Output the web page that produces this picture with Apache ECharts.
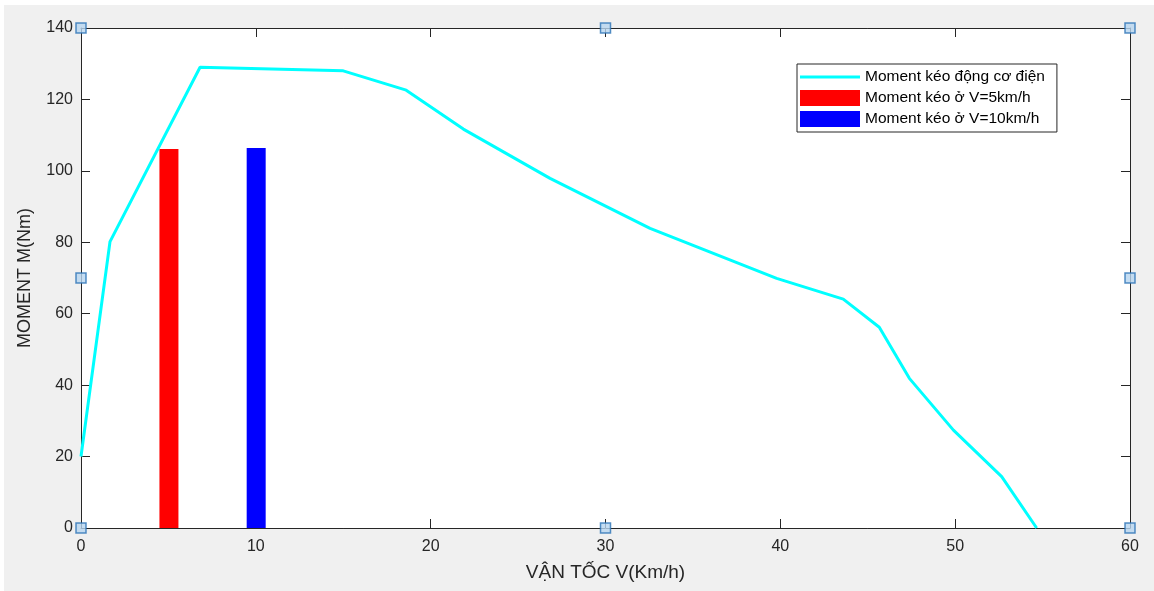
<!DOCTYPE html>
<html>
<head>
<meta charset="utf-8">
<script src="https://cdn.jsdelivr.net/npm/echarts@6/dist/echarts.min.js"></script>
<style>
  html, body { margin: 0; padding: 0; background: #ffffff; width: 1154px; height: 591px; overflow: hidden; }
  #chart { position: absolute; left: 4px; top: 5px; width: 1150px; height: 586px; background: #f0f0f0; }
</style>
</head>
<body>
<div id="chart"></div>
<script>
// ---- data ----
const curveX = [0, 1.66, 6.81, 15.0, 18.6, 21.87, 26.83, 32.55, 39.79, 43.6, 45.66, 47.38, 49.9, 52.66, 54.66];
const curveY = [20, 80.2, 129.0, 128.0, 122.6, 111.7, 97.9, 83.9, 69.9, 64.1, 56.2, 41.9, 27.4, 14.4, 0];
const bar5 = [[5.03, 106.1]];
const bar10 = [[10.02, 106.4]];
const handleX = [0, 30, 60, 0, 60, 0, 30, 60];
const handleY = [140, 140, 140, 70, 70, 0, 0, 0];
const xTicks = [0, 10, 20, 30, 40, 50, 60];
const yTicks = [0, 20, 40, 60, 80, 100, 120, 140];
const seriesNames = ['Moment kéo động cơ điện', 'Moment kéo ở V=5km/h', 'Moment kéo ở V=10km/h'];
const xName = 'VẬN TỐC V(Km/h)';
const yName = 'MOMENT M(Nm)';

const curve = curveX.map((x, i) => [x, curveY[i]]);
const handles = handleX.map((x, i) => [x, handleY[i]]);

const axisColor = '#262626';
const font = '"Liberation Sans", Arial, Helvetica, sans-serif';

const chart = echarts.init(document.getElementById('chart'), null, { renderer: 'canvas' });

const baseX = {
  type: 'value', min: xTicks[0], max: xTicks[xTicks.length - 1], interval: 10,
  axisLine: { show: true, onZero: false, lineStyle: { color: axisColor, width: 1 } },
  axisTick: { show: true, inside: true, length: 9, lineStyle: { color: axisColor } },
  splitLine: { show: false }
};
const baseY = {
  type: 'value', min: yTicks[0], max: yTicks[yTicks.length - 1], interval: 20,
  axisLine: { show: true, onZero: false, lineStyle: { color: axisColor, width: 1 } },
  axisTick: { show: true, inside: true, length: 9, lineStyle: { color: axisColor } },
  splitLine: { show: false }
};

const lineIcon = 'path://M0,0 M60,16 M0,6.5 L60,6.5 L60,9.5 L0,9.5 Z';

chart.setOption({
  animation: false,
  backgroundColor: '#f0f0f0',
  textStyle: { fontFamily: font },
  grid: {
    left: 77, right: 24, top: 23, bottom: 63,
    show: true, backgroundColor: '#ffffff', borderWidth: 0
  },
  legend: {
    orient: 'vertical',
    left: 793, top: 59,
    data: [
      { name: seriesNames[0], icon: lineIcon, itemStyle: { color: '#00ffff' } },
      { name: seriesNames[1], icon: 'rect' },
      { name: seriesNames[2], icon: 'rect' }
    ],
    itemWidth: 60, itemHeight: 16, itemGap: 5,
    padding: [5, 12, 5, 3],
    backgroundColor: '#ffffff',
    borderColor: axisColor, borderWidth: 1,
    textStyle: { fontSize: 15.5, color: '#000000', fontFamily: font },
    selectedMode: false
  },
  xAxis: [
    Object.assign({}, baseX, {
      position: 'bottom',
      name: xName, nameLocation: 'middle', nameGap: 35,
      nameTextStyle: { fontSize: 19, color: axisColor, fontFamily: font },
      axisLabel: { show: true, fontSize: 16, color: axisColor, margin: 11, fontFamily: font }
    }),
    Object.assign({}, baseX, { position: 'top', axisLabel: { show: false } })
  ],
  yAxis: [
    Object.assign({}, baseY, {
      position: 'left',
      name: yName, nameLocation: 'middle', nameGap: 47,
      nameTextStyle: { fontSize: 18, color: axisColor, fontFamily: font },
      axisLabel: { show: true, fontSize: 16, color: axisColor, margin: 8, fontFamily: font }
    }),
    Object.assign({}, baseY, { position: 'right', axisLabel: { show: false } })
  ],
  series: [
    {
      name: seriesNames[0], type: 'line', data: curve,
      xAxisIndex: 0, yAxisIndex: 0,
      showSymbol: false, symbol: 'none',
      lineStyle: { color: '#00ffff', width: 3 },
      itemStyle: { color: '#00ffff' },
      z: 3
    },
    {
      name: seriesNames[1], type: 'bar', data: bar5,
      xAxisIndex: 0, yAxisIndex: 0,
      barWidth: 19, itemStyle: { color: '#ff0000' }, z: 2
    },
    {
      name: seriesNames[2], type: 'bar', data: bar10,
      xAxisIndex: 0, yAxisIndex: 0,
      barWidth: 19, barGap: '-100%', itemStyle: { color: '#0000ff' }, z: 2
    },
    {
      name: 'handles', type: 'scatter', data: handles,
      xAxisIndex: 0, yAxisIndex: 0,
      symbol: 'rect', symbolSize: 10, clip: false,
      itemStyle: { color: '#b8d6f0', borderColor: '#2a72b5', borderWidth: 1.5 },
      z: 10, silent: true
    }
  ]
});
</script>
</body>
</html>
